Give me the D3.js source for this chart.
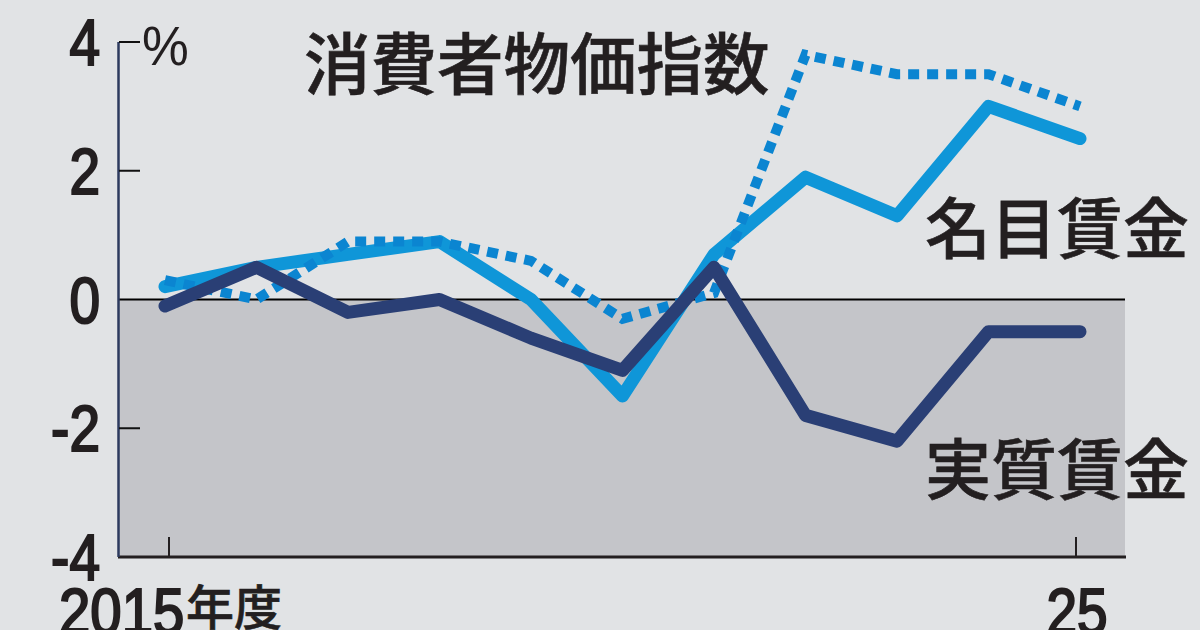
<!DOCTYPE html>
<html>
<head>
<meta charset="utf-8">
<script src="https://cdn.jsdelivr.net/npm/d3@7"></script>
<style>
  html, body { margin: 0; padding: 0; background: #e1e3e5; overflow: hidden; }
  svg { display: block; }
  .num { font-family: "Liberation Sans", sans-serif; fill: #231f20; stroke: #231f20; stroke-width: 2.2px; }
  .jp { font-family: "Noto Sans CJK JP", sans-serif; font-weight: 500; fill: #231f20; stroke: #231f20; stroke-width: 0.6px; }
</style>
</head>
<body>
<svg id="chart" width="1200" height="630"></svg>
<script>
// fiscal years 2015-2025
var years = [2015, 2016, 2017, 2018, 2019, 2020, 2021, 2022, 2023, 2024, 2025];
var cpi = [0.3, 0.0, 0.9, 0.9, 0.6, -0.3, 0.1, 3.8, 3.5, 3.5, 3.0];
var nominal = [0.2, 0.5, 0.7, 0.9, 0.0, -1.5, 0.7, 1.9, 1.3, 3.0, 2.5];
var real = [-0.1, 0.5, -0.2, 0.0, -0.6, -1.1, 0.5, -1.8, -2.2, -0.5, -0.5];
var yTicks = [4, 2, 0, -2, -4];
var xTicks = [2015, 2025];
var xTickLabels = ["2015", "年度", "25"];

var svg = d3.select("#chart");
var ink = "#231f20";

var x = d3.scaleLinear().domain([2015, 2025]).range([165, 1080]);
// the printed ticks sit slightly inside the first and last points
var xTickPos = d3.scaleLinear().domain([2015, 2025]).range([169, 1076]);
var y = d3.scaleLinear().domain([4, -4]).range([42, 557]);
var plotLeft = 119, plotRight = 1125;

// shaded area under zero
svg.append("rect")
  .attr("x", plotLeft)
  .attr("y", y(0))
  .attr("width", plotRight - plotLeft)
  .attr("height", y(-4) - y(0))
  .attr("fill", "#c4c5c9");

// zero line and bottom axis
svg.append("line")
  .attr("x1", plotLeft).attr("x2", plotRight)
  .attr("y1", y(0)).attr("y2", y(0))
  .attr("stroke", "#000").attr("stroke-width", 2);
svg.append("line")
  .attr("x1", plotLeft - 1).attr("x2", plotRight + 1)
  .attr("y1", y(-4)).attr("y2", y(-4))
  .attr("stroke", ink).attr("stroke-width", 3);

// left axis
svg.append("line")
  .attr("x1", 118.5).attr("x2", 118.5)
  .attr("y1", y(4)).attr("y2", y(-4))
  .attr("stroke", "#2c3a5e").attr("stroke-width", 2.5);

svg.selectAll(".ytick")
  .data(yTicks.filter(d => d != 0 && d != -4))
  .enter().append("line")
  .attr("x1", plotLeft).attr("x2", 140)
  .attr("y1", d => y(d)).attr("y2", d => y(d))
  .attr("stroke", "#111").attr("stroke-width", 2);

svg.selectAll(".xtick")
  .data(xTicks)
  .enter().append("line")
  .attr("x1", d => xTickPos(d)).attr("x2", d => xTickPos(d))
  .attr("y1", y(-4)).attr("y2", y(-4) - 20)
  .attr("stroke", ink).attr("stroke-width", 2);

// tick labels, squeezed to the narrow print face
svg.selectAll(".ylabel")
  .data(yTicks)
  .enter().append("text")
  .attr("class", "num")
  .attr("text-anchor", "end")
  .attr("font-size", 64)
  .attr("transform", d => `translate(100,${y(d) + 23}) scale(0.86,1)`)
  .text(d => d);

svg.append("text")
  .attr("class", "num")
  .attr("font-size", 64)
  .attr("transform", `translate(59,${y(-4) + 77}) scale(0.88,1)`)
  .text(xTickLabels[0]);
svg.append("text")
  .attr("class", "jp")
  .attr("font-size", 48)
  .attr("x", 186)
  .attr("y", 625)
  .text(xTickLabels[1]);
svg.append("text")
  .attr("class", "num")
  .attr("font-size", 64)
  .attr("text-anchor", "middle")
  .attr("transform", `translate(${xTickPos(2025) + 1},${y(-4) + 77}) scale(0.86,1)`)
  .text(xTickLabels[2]);

svg.append("text")
  .attr("font-family", "Liberation Sans, sans-serif")
  .attr("font-size", 56)
  .attr("fill", ink)
  .attr("transform", "translate(142,65) scale(0.94,1)")
  .text("%");

// lines
var line = d3.line()
  .x((d, i) => x(years[i]))
  .y(d => y(d));

svg.append("path")
  .datum(nominal)
  .attr("d", line)
  .attr("fill", "none")
  .attr("stroke", "#0f96d8")
  .attr("stroke-width", 13)
  .attr("stroke-linecap", "round")
  .attr("stroke-linejoin", "round");

svg.append("path")
  .datum(cpi)
  .attr("d", line)
  .attr("fill", "none")
  .attr("stroke", "#0b85d1")
  .attr("stroke-width", 10)
  .attr("stroke-dasharray", "11 8");

svg.append("path")
  .datum(real)
  .attr("d", line)
  .attr("fill", "none")
  .attr("stroke", "#2a3f75")
  .attr("stroke-width", 13)
  .attr("stroke-linecap", "round")
  .attr("stroke-linejoin", "round");

// series names
svg.append("text").attr("class", "jp").attr("font-size", 66.5)
  .attr("x", 304).attr("y", 89).text("消費者物価指数");
svg.append("text").attr("class", "jp").attr("font-size", 66)
  .attr("x", 925).attr("y", 253).text("名目賃金");
svg.append("text").attr("class", "jp").attr("font-size", 66)
  .attr("x", 925).attr("y", 494).text("実質賃金");
</script>
</body>
</html>
